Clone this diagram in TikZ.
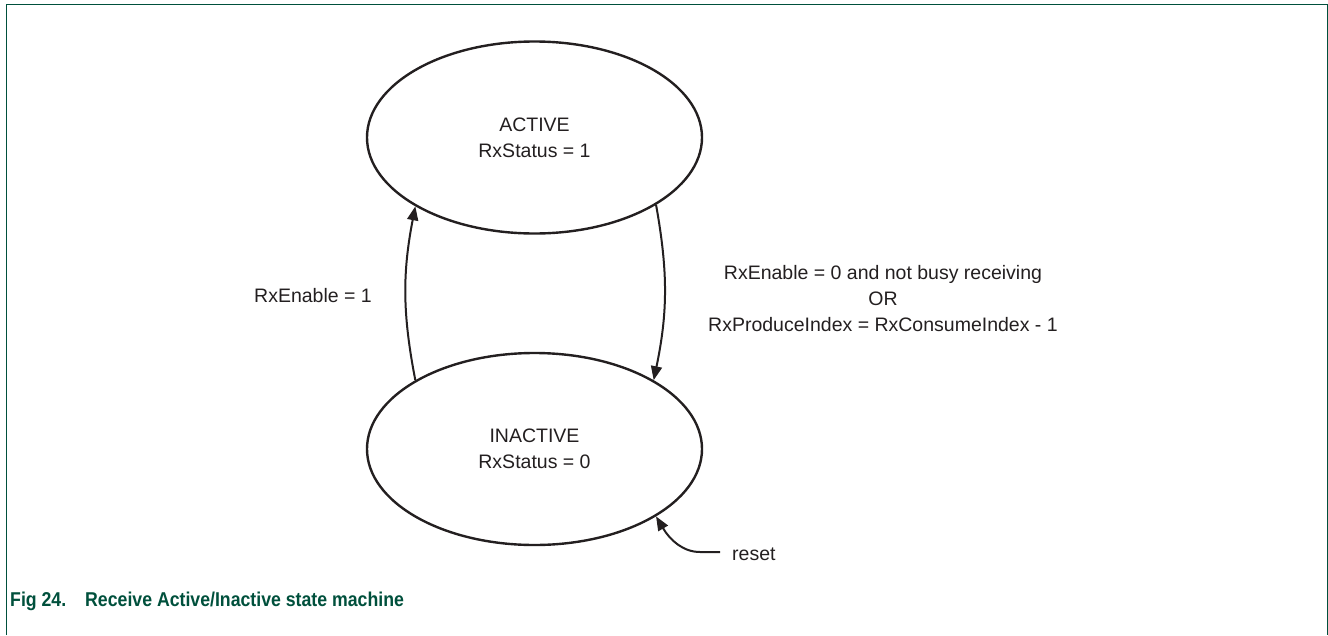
\documentclass[tikz,border=0pt]{standalone}
\usepackage{fontspec}
\setmainfont{Liberation Sans}
\newfontfamily\capfont[FakeStretch=0.885]{Liberation Sans}
\usetikzlibrary{shapes.geometric,arrows.meta}
\definecolor{nxpgreen}{HTML}{00503C}
\definecolor{ink}{HTML}{231F20}
\begin{document}
\begin{tikzpicture}[x=1pt,y=-1pt,
  statebox/.style={draw=ink,line width=2.4pt,ellipse,inner sep=0pt,
    minimum width=335pt,minimum height=192pt,align=center,text=ink,
    font=\fontsize{19.5}{26}\selectfont},
  lbl/.style={inner sep=0pt,align=center,text=ink,font=\fontsize{19.5}{26}\selectfont},
  arr/.style={draw=ink,line width=2pt,-{Triangle[length=14pt,width=11pt]}},
  frameline/.style={draw=nxpgreen,line width=1.3pt},
  titlefont/.style={inner sep=0pt,text=nxpgreen,font=\capfont\fontsize{20}{24}\selectfont\bfseries}]
\useasboundingbox (0,0) rectangle (1328,635);
\draw[frameline] (6.5,635) -- (6.5,4.5) -- (1327.5,4.5) -- (1327.5,635);
\node[statebox] (act) at (534.5,137.5) {ACTIVE\\RxStatus = 1};
\node[statebox] (inact) at (534.5,449) {INACTIVE\\RxStatus = 0};
\draw[arr] (inact.150) to[bend left=11] (act.210);
\draw[arr] (act.-29) to[bend left=11] (inact.30);
\node[lbl] (l1) at (313,296) {RxEnable = 1};
\node[lbl] (l2) at (883,299) {RxEnable = 0 and not busy receiving\\OR\\RxProduceIndex = RxConsumeIndex - 1};
\node[lbl,anchor=west] (reset) at (732,554) {reset};
\coordinate (rs) at (720,552);
\draw[arr] (rs) -- (700,552) .. controls (683,552) and (670,540) .. (inact.-29);
\node[titlefont,anchor=base west] (fig) at (10,606.5) {Fig 24.};
\node[titlefont,anchor=base west] (cap) at (85,606.5) {Receive Active/Inactive state machine};
\end{tikzpicture}
\end{document}
